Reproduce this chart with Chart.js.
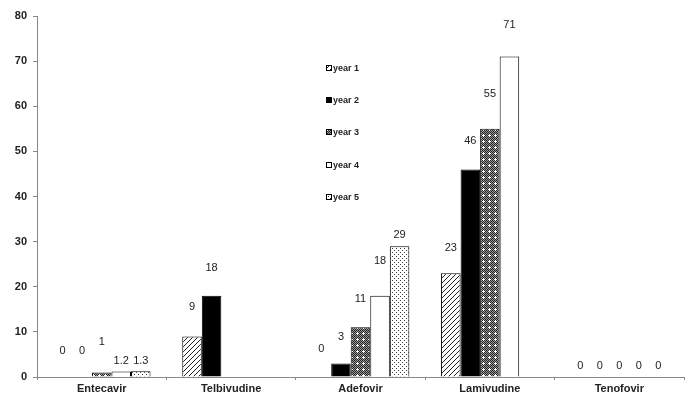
<!DOCTYPE html>
<html><head><meta charset="utf-8">
<script src="https://cdn.jsdelivr.net/npm/chart.js@4.4.1/dist/chart.umd.min.js"></script>
<style>html,body{margin:0;padding:0;background:#fff}#wrap{width:695px;height:401px;position:relative}</style>
</head><body><div id="wrap"><canvas id="c" width="695" height="401"></canvas></div>
<script>
const categories = ["Entecavir", "Telbivudine", "Adefovir", "Lamivudine", "Tenofovir"];
const seriesNames = ["year 1", "year 2", "year 3", "year 4", "year 5"];
const year1 = [0, 9, 0, 23, 0];
const year2 = [0, 18, 3, 46, 0];
const year3 = [1, null, 11, 55, 0];
const year4 = [1.2, null, 18, 71, 0];
const year5 = [1.3, null, 29, null, 0];
const yTicks = [0, 10, 20, 30, 40, 50, 60, 70, 80];
// distance (px) from bar top to value-label centre, per series
const labelLift = [
  [26, 29, 28, 25, 11],
  [26, 28, 26.5, 28, 11],
  [30.5, 0, 28, 35, 11],
  [10.6, 0, 35, 32, 11],
  [10, 0, 11, 0, 11]
];

function mk(w, h, draw) {
  const c = document.createElement('canvas'); c.width = w; c.height = h;
  const g = c.getContext('2d'); draw(g, w, h);
  return document.getElementById('c').getContext('2d').createPattern(c, 'repeat');
}
const pHatch = mk(5, 5, (g, w, h) => {
  g.fillStyle = '#fff'; g.fillRect(0, 0, w, h);
  g.fillStyle = '#222';
  for (let i = 0; i < 5; i++) { g.fillRect(i, 4 - i, 1, 1); }
});
const pCheck = mk(6, 6, (g, w, h) => {
  for (let y = 0; y < h; y++) for (let x = 0; x < w; x++) {
    g.fillStyle = ((x + y) % 2 === 0) ? '#222' : '#9a9a9a';
    g.fillRect(x, y, 1, 1);
  }
  g.fillStyle = '#fff';
  g.fillRect(3, 2, 1, 3); g.fillRect(2, 3, 3, 1);
});
const pDots = mk(4, 4, (g, w, h) => {
  g.fillStyle = '#fff'; g.fillRect(0, 0, w, h);
  g.fillStyle = '#333'; g.fillRect(0, 0, 1, 1); g.fillRect(2, 2, 1, 1);
});
const fills = [pHatch, '#000', pCheck, '#fff', pDots];
const values = [year1, year2, year3, year4, year5];

const labelPlugin = {
  id: 'vlabels',
  afterDatasetsDraw(chart) {
    const ctx = chart.ctx; const ys = chart.scales.y;
    ctx.save();
    ctx.font = '11px "Liberation Sans", Arial, sans-serif';
    ctx.fillStyle = '#222'; ctx.textAlign = 'center'; ctx.textBaseline = 'middle';
    chart.data.datasets.forEach((ds, di) => {
      const meta = chart.getDatasetMeta(di);
      meta.data.forEach((bar, i) => {
        const v = ds.data[i];
        if (v === null || v === undefined) return;
        const top = ys.getPixelForValue(v);
        ctx.fillText(String(v), bar.x, top - labelLift[di][i]);
      });
    });
    ctx.restore();
  }
};
const legendPlugin = {
  id: 'midlegend',
  afterDraw(chart) {
    const ctx = chart.ctx; ctx.save();
    const ys = chart.scales.y;
    const positions = [68, 100, 132, 165, 197];
    ctx.font = 'bold 9px "Liberation Sans", Arial, sans-serif';
    ctx.textBaseline = 'middle'; ctx.textAlign = 'left';
    seriesNames.forEach((n, i) => {
      const y = positions[i];
      ctx.fillStyle = fills[i]; ctx.fillRect(326, y - 3, 6, 6);
      ctx.strokeStyle = '#000'; ctx.lineWidth = 1; ctx.strokeRect(326.5, y - 2.5, 5, 5);
      ctx.fillStyle = '#222'; ctx.fillText(n, 333, y + 0.5);
    });
    ctx.restore();
  }
};

new Chart(document.getElementById('c'), {
  type: 'bar',
  data: {
    labels: categories,
    datasets: seriesNames.map((n, i) => ({
      label: n, data: values[i], backgroundColor: fills[i],
      borderColor: '#000', borderWidth: 1,
      categoryPercentage: 0.755, barPercentage: 1.0
    }))
  },
  options: {
    responsive: false, animation: false,
    layout: { padding: { top: 16, right: 11, left: 0, bottom: 0 } },
    plugins: { legend: { display: false }, tooltip: { enabled: false } },
    scales: {
      x: {
        grid: { display: true, drawOnChartArea: false, offset: true, tickLength: 3, color: '#888' },
        border: { color: '#888' },
        ticks: { color: '#222', font: { family: '"Liberation Sans", Arial, sans-serif', size: 11, weight: 'bold' }, padding: 2 },
        afterFit(s) { s.height = 24; }
      },
      y: {
        min: 0, max: 80,
        afterBuildTicks(s) { s.ticks = yTicks.map(v => ({ value: v })); },
        grid: { display: true, drawOnChartArea: false, tickLength: 4, color: '#888' },
        border: { color: '#888' },
        ticks: { color: '#222', font: { family: '"Liberation Sans", Arial, sans-serif', size: 11, weight: 'bold' }, padding: 6 },
        afterFit(s) { s.width = 37; }
      }
    }
  },
  plugins: [labelPlugin, legendPlugin]
});
</script></body></html>
